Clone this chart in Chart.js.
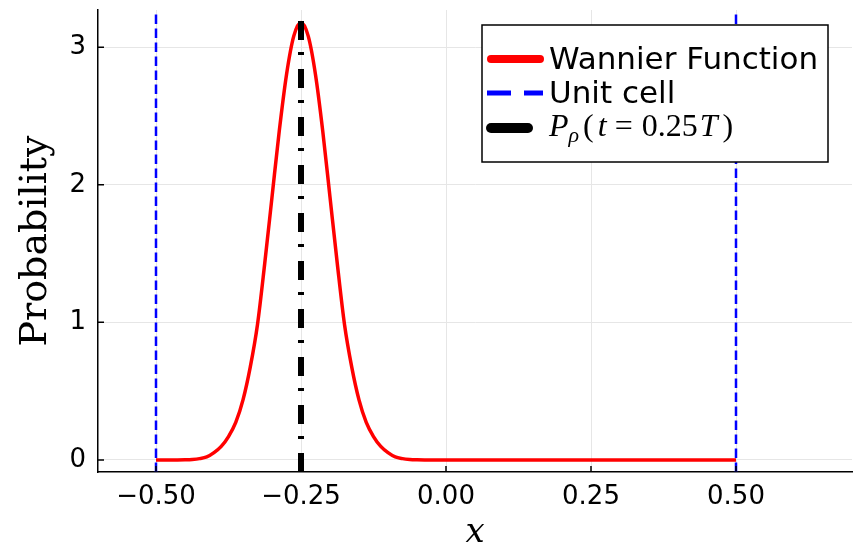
<!DOCTYPE html>
<html>
<head>
<meta charset="utf-8">
<script src="https://cdn.jsdelivr.net/npm/chart.js@4"></script>
<style>
  html, body { margin: 0; padding: 0; background: #fff; }
</style>
</head>
<body>
<canvas id="chart" width="864" height="550"></canvas>
<script>
// Wannier function probability
const xValues = [-0.5, -0.475, -0.45, -0.4375,
  -0.425, -0.4125, -0.4, -0.3875, -0.375, -0.3625, -0.35,
  -0.3375, -0.325, -0.3125, -0.3, -0.2875, -0.275, -0.2625, -0.25,
  -0.2375, -0.225, -0.2125, -0.2, -0.1875, -0.175, -0.1625, -0.15,
  -0.1375, -0.125, -0.1125, -0.1, -0.0875, -0.075, -0.0625,
  -0.05, -0.025, 0, 0.1, 0.2, 0.3, 0.4, 0.5];
const probValues = [0, 0, 0.0017, 0.004,
  0.0098, 0.022, 0.053, 0.0985, 0.17, 0.273, 0.437,
  0.675, 0.985, 1.43, 1.91, 2.39, 2.8, 3.08, 3.18,
  3.08, 2.8, 2.39, 1.91, 1.43, 0.985, 0.675, 0.437,
  0.273, 0.17, 0.0985, 0.053, 0.022, 0.0098, 0.004,
  0.0017, 0, 0, 0, 0, 0, 0, 0];

const unitCellX = [-0.5, 0.5];
const polarizationX = [-0.25];
const seriesLabels = ["Wannier Function", "Unit cell", "P_ρ(t = 0.25T)"];

const xTicks = [-0.5, -0.25, 0, 0.25, 0.5];
const yTicks = [0, 1, 2, 3];
const xMin = -0.6, xMax = 0.7;
const yMin = -0.0875, yMax = 3.27;

// vertical lines spanning the whole y range
function vlines(xs) {
    const pts = [];
    xs.forEach(x => {
        pts.push({ x: x, y: yMin }, { x: x, y: yMax }, { x: x, y: null });
    });
    return pts;
}

const TICK_FONT = { family: "DejaVu Sans", size: 26 };

// small ticks pointing into the plot
const innerTicks = {
    id: "innerTicks",
    afterDraw(chart) {
        const { ctx, chartArea, scales } = chart;
        ctx.save();
        ctx.strokeStyle = "#000";
        ctx.lineWidth = 1.5;
        ctx.beginPath();
        scales.x.ticks.forEach(t => {
            const px = scales.x.getPixelForValue(t.value);
            ctx.moveTo(px, chartArea.bottom);
            ctx.lineTo(px, chartArea.bottom - 6);
        });
        scales.y.ticks.forEach(t => {
            const py = scales.y.getPixelForValue(t.value);
            ctx.moveTo(chartArea.left, py);
            ctx.lineTo(chartArea.left + 6, py);
        });
        ctx.stroke();
        ctx.restore();
    }
};

// P_rho(t = 0.25T) written out in math style
function drawMathLabel(ctx, x, y) {
    const it = "italic 32px 'Liberation Serif'";
    const rm = "32px 'Liberation Serif'";
    const parts = [
        [it, "P", 0, 0],
        ["italic 22px 'Liberation Serif'", "ρ", 6, 4],
        [rm, "(", 0, 4],
        [it, "t", 0, 8],
        [rm, "=", 0, 9],
        [rm, "0.25", 0, 2],
        [it, "T", 0, 5],
        [rm, ")", 0, 0]
    ];
    ctx.textBaseline = "alphabetic";
    ctx.textAlign = "left";
    let cx = x;
    parts.forEach(([font, s, dy, gap]) => {
        ctx.font = font;
        ctx.fillText(s, cx, y + dy);
        cx += ctx.measureText(s).width + gap;
    });
}

const boxLegend = {
    id: "boxLegend",
    afterDraw(chart) {
        const { ctx, chartArea } = chart;
        const w = 346, h = 137;
        const left = chartArea.right - 24 - w;
        const top = chartArea.top + 15;
        ctx.save();
        ctx.fillStyle = "#fff";
        ctx.fillRect(left, top, w, h);
        ctx.strokeStyle = "#000";
        ctx.lineWidth = 1.5;
        ctx.strokeRect(left, top, w, h);

        const samples = [
            { width: 8, dash: [], cap: "round", x0: left + 9, x1: left + 58 },
            { width: 5, dash: [24, 13], cap: "butt", x0: left + 5, x1: left + 61 },
            { width: 10, dash: [], cap: "round", x0: left + 9, x1: left + 46 }
        ];
        const rows = [top + 34, top + 68, top + 103];
        chart.data.datasets.forEach((ds, i) => {
            const s = samples[i];
            ctx.strokeStyle = ds.borderColor;
            ctx.lineWidth = s.width;
            ctx.lineCap = s.cap;
            ctx.setLineDash(s.dash);
            ctx.beginPath();
            ctx.moveTo(s.x0, rows[i]);
            ctx.lineTo(s.x1, rows[i]);
            ctx.stroke();
        });
        ctx.setLineDash([]);
        ctx.fillStyle = "#000";
        ctx.font = "31px 'DejaVu Sans'";
        ctx.textBaseline = "middle";
        ctx.fillText(seriesLabels[0], left + 67, rows[0] + 2);
        ctx.fillText(seriesLabels[1], left + 67, rows[1] + 2);
        drawMathLabel(ctx, left + 67, rows[2] + 8);
        ctx.restore();
    }
};

new Chart(document.getElementById("chart"), {
    type: "line",
    data: {
        datasets: [
            {
                label: seriesLabels[0],
                data: xValues.map((x, i) => ({ x: x, y: probValues[i] })),
                borderColor: "#ff0000",
                borderWidth: 3.5,
                cubicInterpolationMode: "monotone",
                pointRadius: 0,
                order: 3
            },
            {
                label: seriesLabels[1],
                data: vlines(unitCellX),
                borderColor: "#0000ff",
                borderWidth: 2.5,
                borderDash: [9.5, 4.5],
                pointRadius: 0,
                order: 2
            },
            {
                label: seriesLabels[2],
                data: vlines(polarizationX),
                borderColor: "#000000",
                borderWidth: 6,
                borderDash: [19, 14, 3, 12],
                pointRadius: 0,
                order: 1
            }
        ]
    },
    options: {
        responsive: false,
        animation: false,
        layout: { padding: { top: 10, right: 12, left: 0, bottom: 0 } },
        plugins: {
            legend: { display: false },
            tooltip: { enabled: false }
        },
        scales: {
            x: {
                type: "linear",
                min: xMin,
                max: xMax,
                afterBuildTicks: s => { s.ticks = xTicks.map(v => ({ value: v })); },
                afterFit: s => { s.height = 78; s.paddingLeft = 0; s.paddingRight = 0; },
                ticks: {
                    autoSkip: false,
                    maxRotation: 0,
                    padding: 10,
                    color: "#000",
                    font: TICK_FONT,
                    callback: v => (v < 0 ? "\u2212" : "") + Math.abs(v).toFixed(2)
                },
                grid: { color: "#e6e6e6", lineWidth: 1, drawTicks: false },
                border: { color: "#000", width: 1.5 },
                title: {
                    display: true,
                    text: "x",
                    color: "#000",
                    font: { family: "DejaVu Serif", style: "italic", size: 34, lineHeight: 1 },
                    padding: { top: 0, bottom: 0 }
                }
            },
            y: {
                type: "linear",
                min: yMin,
                max: yMax,
                afterBuildTicks: s => { s.ticks = yTicks.map(v => ({ value: v })); },
                afterFit: s => { s.width = 98; s.paddingTop = 0; s.paddingBottom = 0; },
                ticks: {
                    padding: 12,
                    color: "#000",
                    font: TICK_FONT,
                    callback: v => String(v)
                },
                grid: { color: "#e6e6e6", lineWidth: 1, drawTicks: false },
                border: { color: "#000", width: 1.5 },
                title: {
                    display: true,
                    text: "Probability",
                    color: "#000",
                    font: { family: "DejaVu Serif", size: 38, lineHeight: 1 },
                    padding: { top: 17, bottom: 0 }
                }
            }
        }
    },
    plugins: [innerTicks, boxLegend]
});
</script>
</body>
</html>
